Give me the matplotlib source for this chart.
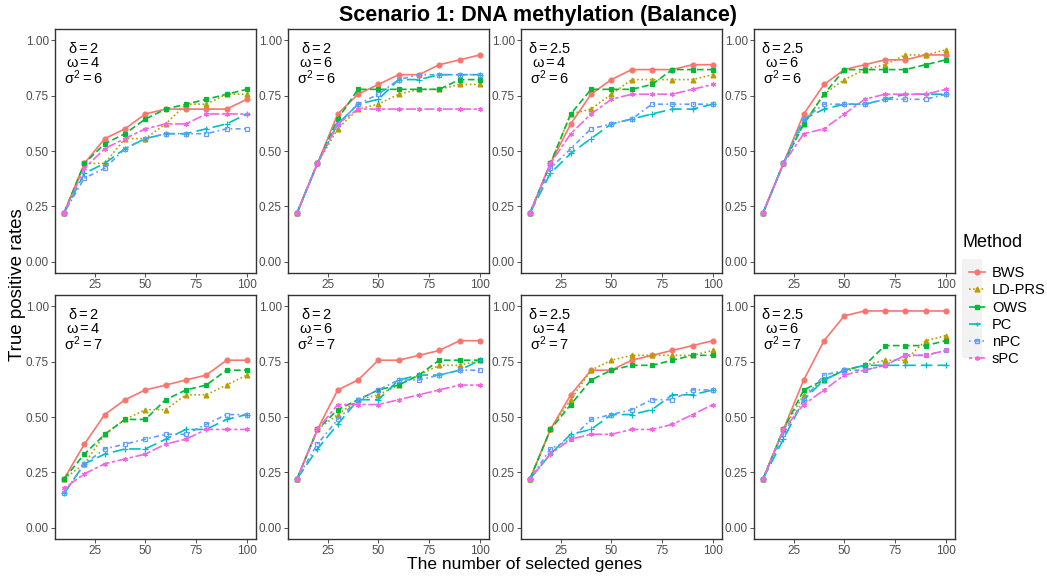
import matplotlib
matplotlib.use("Agg")
import matplotlib.pyplot as plt
import matplotlib.patches as mpatches
from matplotlib.lines import Line2D

plt.rcParams["font.family"] = ["Liberation Sans", "DejaVu Sans"]
plt.rcParams["mathtext.fontset"] = "custom"
plt.rcParams["mathtext.rm"] = "Liberation Sans"
plt.rcParams["mathtext.it"] = "Liberation Sans"

# number of selected genes
genes = [10, 20, 30, 40, 50, 60, 70, 80, 90, 100]

methods = ["BWS", "LD-PRS", "OWS", "PC", "nPC", "sPC"]

# panel parameters (delta, omega, sigma^2)
delta = ["2", "2", "2.5", "2.5", "2", "2", "2.5", "2.5"]
omega = ["4", "6", "4", "6", "4", "6", "4", "6"]
sigma2 = ["6", "6", "6", "6", "7", "7", "7", "7"]

# true positive rates, one dict per panel
p1 = {
    "BWS":    [0.222, 0.444, 0.556, 0.600, 0.667, 0.689, 0.689, 0.689, 0.689, 0.733],
    "LD-PRS": [0.222, 0.444, 0.444, 0.556, 0.556, 0.622, 0.711, 0.711, 0.756, 0.756],
    "OWS":    [0.222, 0.444, 0.533, 0.578, 0.644, 0.689, 0.711, 0.733, 0.756, 0.778],
    "PC":     [0.222, 0.400, 0.444, 0.511, 0.556, 0.578, 0.578, 0.600, 0.622, 0.667],
    "nPC":    [0.222, 0.378, 0.422, 0.511, 0.556, 0.578, 0.578, 0.578, 0.600, 0.600],
    "sPC":    [0.222, 0.422, 0.511, 0.556, 0.600, 0.622, 0.622, 0.667, 0.667, 0.667],
}
p2 = {
    "BWS":    [0.222, 0.444, 0.667, 0.756, 0.800, 0.844, 0.844, 0.889, 0.911, 0.933],
    "LD-PRS": [0.222, 0.444, 0.600, 0.689, 0.711, 0.756, 0.778, 0.778, 0.800, 0.800],
    "OWS":    [0.222, 0.444, 0.644, 0.778, 0.778, 0.778, 0.778, 0.778, 0.822, 0.822],
    "PC":     [0.222, 0.444, 0.622, 0.711, 0.733, 0.822, 0.822, 0.844, 0.844, 0.844],
    "nPC":    [0.222, 0.444, 0.622, 0.711, 0.756, 0.822, 0.844, 0.844, 0.844, 0.844],
    "sPC":    [0.222, 0.444, 0.622, 0.689, 0.689, 0.689, 0.689, 0.689, 0.689, 0.689],
}
p3 = {
    "BWS":    [0.222, 0.444, 0.622, 0.756, 0.822, 0.867, 0.867, 0.867, 0.889, 0.889],
    "LD-PRS": [0.222, 0.444, 0.667, 0.689, 0.756, 0.822, 0.822, 0.822, 0.822, 0.844],
    "OWS":    [0.222, 0.444, 0.667, 0.778, 0.778, 0.778, 0.800, 0.867, 0.867, 0.867],
    "PC":     [0.222, 0.400, 0.489, 0.556, 0.622, 0.644, 0.667, 0.689, 0.689, 0.711],
    "nPC":    [0.222, 0.422, 0.511, 0.600, 0.622, 0.644, 0.711, 0.711, 0.711, 0.711],
    "sPC":    [0.222, 0.444, 0.578, 0.667, 0.733, 0.756, 0.756, 0.756, 0.778, 0.800],
}
p4 = {
    "BWS":    [0.222, 0.444, 0.667, 0.800, 0.867, 0.889, 0.911, 0.911, 0.933, 0.933],
    "LD-PRS": [0.222, 0.444, 0.622, 0.756, 0.822, 0.867, 0.889, 0.933, 0.933, 0.956],
    "OWS":    [0.222, 0.444, 0.622, 0.756, 0.867, 0.867, 0.867, 0.867, 0.889, 0.911],
    "PC":     [0.222, 0.444, 0.644, 0.689, 0.711, 0.711, 0.733, 0.756, 0.756, 0.756],
    "nPC":    [0.222, 0.444, 0.644, 0.711, 0.711, 0.711, 0.733, 0.733, 0.733, 0.756],
    "sPC":    [0.222, 0.444, 0.578, 0.600, 0.667, 0.733, 0.756, 0.756, 0.756, 0.778],
}
p5 = {
    "BWS":    [0.222, 0.378, 0.511, 0.578, 0.622, 0.644, 0.667, 0.689, 0.756, 0.756],
    "LD-PRS": [0.222, 0.289, 0.422, 0.489, 0.533, 0.533, 0.600, 0.600, 0.644, 0.689],
    "OWS":    [0.222, 0.333, 0.422, 0.489, 0.489, 0.578, 0.622, 0.644, 0.711, 0.711],
    "PC":     [0.156, 0.289, 0.333, 0.356, 0.356, 0.400, 0.444, 0.444, 0.489, 0.511],
    "nPC":    [0.156, 0.289, 0.356, 0.378, 0.400, 0.422, 0.422, 0.467, 0.511, 0.511],
    "sPC":    [0.178, 0.244, 0.289, 0.311, 0.333, 0.378, 0.400, 0.444, 0.444, 0.444],
}
p6 = {
    "BWS":    [0.222, 0.444, 0.622, 0.667, 0.756, 0.756, 0.778, 0.800, 0.844, 0.844],
    "LD-PRS": [0.222, 0.444, 0.511, 0.578, 0.600, 0.644, 0.689, 0.733, 0.733, 0.756],
    "OWS":    [0.222, 0.444, 0.533, 0.578, 0.622, 0.644, 0.689, 0.756, 0.756, 0.756],
    "PC":     [0.222, 0.356, 0.467, 0.578, 0.578, 0.667, 0.689, 0.689, 0.711, 0.756],
    "nPC":    [0.222, 0.378, 0.489, 0.578, 0.622, 0.667, 0.667, 0.689, 0.711, 0.711],
    "sPC":    [0.222, 0.444, 0.556, 0.556, 0.556, 0.578, 0.600, 0.622, 0.644, 0.644],
}
p7 = {
    "BWS":    [0.222, 0.444, 0.600, 0.711, 0.711, 0.756, 0.778, 0.800, 0.822, 0.844],
    "LD-PRS": [0.222, 0.444, 0.578, 0.711, 0.756, 0.778, 0.778, 0.778, 0.778, 0.800],
    "OWS":    [0.222, 0.444, 0.556, 0.667, 0.711, 0.733, 0.733, 0.756, 0.778, 0.778],
    "PC":     [0.222, 0.333, 0.422, 0.444, 0.511, 0.511, 0.533, 0.600, 0.600, 0.622],
    "nPC":    [0.222, 0.356, 0.400, 0.489, 0.511, 0.533, 0.578, 0.578, 0.622, 0.622],
    "sPC":    [0.222, 0.333, 0.400, 0.422, 0.422, 0.444, 0.444, 0.467, 0.511, 0.556],
}
p8 = {
    "BWS":    [0.222, 0.444, 0.667, 0.844, 0.956, 0.978, 0.978, 0.978, 0.978, 0.978],
    "LD-PRS": [0.222, 0.444, 0.600, 0.667, 0.711, 0.733, 0.756, 0.756, 0.844, 0.867],
    "OWS":    [0.222, 0.444, 0.622, 0.667, 0.711, 0.733, 0.822, 0.822, 0.822, 0.844],
    "PC":     [0.222, 0.400, 0.578, 0.667, 0.711, 0.733, 0.733, 0.733, 0.733, 0.733],
    "nPC":    [0.222, 0.422, 0.578, 0.689, 0.711, 0.711, 0.733, 0.778, 0.778, 0.800],
    "sPC":    [0.222, 0.444, 0.556, 0.622, 0.689, 0.711, 0.733, 0.778, 0.778, 0.800],
}
panels = [p1, p2, p3, p4, p5, p6, p7, p8]

colors = ["#F8766D", "#B79F00", "#00BA38", "#00BFC4", "#619CFF", "#F564E3"]
styles = ["-", (0, (1, 1.5)), (0, (4, 2)), (0, (7, 3)), (0, (1, 2, 3, 2)), (0, (2, 1.5, 6, 1.5))]
marks = ["o", "^", "s", "+", "s", (6, 2, 0)]
fills = [True, True, True, True, False, True]

W, H = 1047, 579
fig = plt.figure(figsize=(W / 100, H / 100), dpi=100)

lefts = [55, 288, 521, 754]
tops = [29, 295]
pw, ph = 201, 244

for k, data in enumerate(panels):
    row, col = k // 4, k % 4
    ax = fig.add_axes([lefts[col] / W, (H - tops[row] - ph) / H, pw / W, ph / H])
    for i, m in enumerate(methods):
        ax.plot(genes, data[m], color=colors[i], linestyle=styles[i], lw=1.2,
                marker=marks[i], ms=3.5 if marks[i] != "+" else 5,
                markerfacecolor=colors[i] if fills[i] else "none",
                markeredgewidth=0.9)
    ax.set_xlim(5.5, 104.5)
    ax.set_ylim(-0.05, 1.05)
    ax.set_xticks([25, 50, 75, 100])
    ax.set_yticks([0, 0.25, 0.5, 0.75, 1.0])
    ax.set_yticklabels(["0.00", "0.25", "0.50", "0.75", "1.00"])
    ax.tick_params(labelsize=8.5, colors="#333333", labelcolor="#4D4D4D",
                   length=3, width=0.6, pad=1.5)
    for s in ax.spines.values():
        s.set_color("#333333")
        s.set_linewidth(1.0)
    lbl = (r"$\delta = %s$" % delta[k] + "\n" + r"$\omega = %s$" % omega[k]
           + "\n" + r"$\sigma^2 = %s$" % sigma2[k])
    ax.text(0.14, 0.95, lbl, transform=ax.transAxes, ha="center", va="top",
            fontsize=10.5, linespacing=0.95)

fig.text(538 / W, 1 - 15 / H, "Scenario 1: DNA methylation (Balance)",
         ha="center", va="center", fontsize=15.5, fontweight="bold")
fig.text(18 / W, 1 - 285 / H, "True positive rates", rotation=90,
         ha="center", va="center", fontsize=13.5)
fig.text(525 / W, 1 - 565 / H, "The number of selected genes",
         ha="center", va="center", fontsize=12.5)

# legend
fig.text(963 / W, 1 - 243 / H, "Method", ha="left", va="center", fontsize=13)
fig.patches.append(mpatches.Rectangle((962 / W, 1 - 358 / H), 20 / W, 99 / H,
                                      transform=fig.transFigure,
                                      facecolor="#F2F2F2", edgecolor="none"))
handles = [Line2D([], [], color=colors[i], linestyle=styles[i], lw=1.2,
                  marker=marks[i], ms=3.5,
                  markerfacecolor=colors[i] if fills[i] else "none")
           for i in range(len(methods))]
fig.legend(handles, methods, loc="upper left", bbox_to_anchor=(959 / W, 1 - 256 / H),
           frameon=False, fontsize=10.5, handlelength=1.1, handletextpad=0.45,
           labelspacing=0.22, borderpad=0.2)

fig.savefig("out.png", dpi=100)
